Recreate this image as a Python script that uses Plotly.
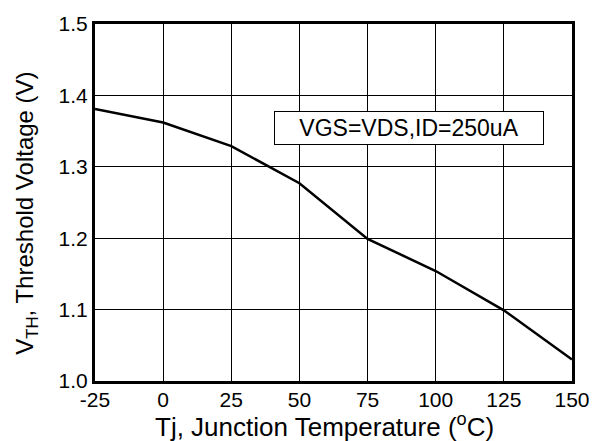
import plotly.graph_objects as go

temps = [-25, 0, 25, 50, 75, 100, 125, 150]
vth = [1.381, 1.362, 1.329, 1.277, 1.199, 1.154, 1.099, 1.030]
x_ticks = [-25, 0, 25, 50, 75, 100, 125, 150]
y_ticks = [1.0, 1.1, 1.2, 1.3, 1.4, 1.5]

FAM = "Liberation Sans, Arial"

fig = go.Figure()
fig.add_trace(go.Scatter(x=temps, y=vth, mode="lines",
                         line=dict(color="black", width=2.5), showlegend=False))

fig.add_annotation(x=90.3, y=1.354, xref="x", yref="y",
                   text="VGS=VDS,ID=250uA", showarrow=False,
                   font=dict(family=FAM, size=23, color="black"),
                   bgcolor="white", bordercolor="black", borderwidth=1,
                   borderpad=3, width=262)

# axis titles
fig.add_annotation(x=0.481, y=-0.125, xref="paper", yref="paper",
                   text="Tj, Junction Temperature (<sup>o</sup>C)", showarrow=False,
                   xanchor="center", yanchor="middle", borderpad=0,
                   font=dict(family=FAM, size=26, color="black"))
fig.add_annotation(x=-0.1426, y=0.471, xref="paper", yref="paper",
                   text="V<sub>TH</sub>, Threshold Voltage (V)", showarrow=False,
                   xanchor="center", yanchor="middle", textangle=-90, borderpad=0,
                   font=dict(family=FAM, size=24, color="black"))

fig.update_layout(
    width=606, height=441,
    margin=dict(l=95, r=34, t=16, b=60),
    paper_bgcolor="white", plot_bgcolor="white",
    font=dict(family=FAM, color="black"),
    xaxis=dict(range=[-25, 150], tickvals=x_ticks, ticktext=[str(v) for v in x_ticks],
               showgrid=True, gridcolor="black", gridwidth=1,
               showline=True, linecolor="black", linewidth=3, mirror=True,
               ticks="", tickfont=dict(size=21), zeroline=False,
               ticklabelstandoff=-2),
    yaxis=dict(range=[1.0, 1.5], tickvals=y_ticks, ticktext=["%.1f" % v for v in y_ticks],
               showgrid=True, gridcolor="black", gridwidth=1,
               showline=True, linecolor="black", linewidth=3, mirror=True,
               ticks="", tickfont=dict(size=21), zeroline=False),
)

fig.write_html("out.html")
